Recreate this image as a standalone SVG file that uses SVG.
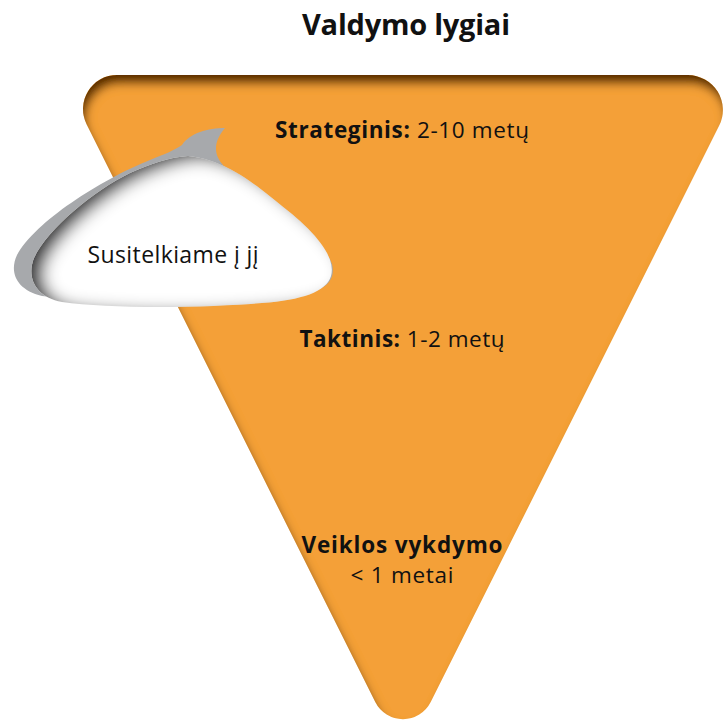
<svg xmlns="http://www.w3.org/2000/svg" width="726" height="721" viewBox="0 0 726 721">
  <style>
    .t { font-family: "Open Sans", "Liberation Sans", sans-serif; fill: #111; text-anchor: middle; }
    .b { font-weight: 700; }
  </style>
  <defs>
    <!-- inner shadow for the inverted triangle -->
    <filter id="triShade" x="-10%" y="-10%" width="120%" height="120%">
      <feComponentTransfer in="SourceAlpha" result="inv">
        <feFuncA type="table" tableValues="1 0"/>
      </feComponentTransfer>
      <feGaussianBlur in="inv" stdDeviation="5"/>
      <feOffset dx="3" dy="9" result="offblur"/>
      <feFlood flood-color="#5a2c02" flood-opacity="1"/>
      <feComposite in2="offblur" operator="in"/>
      <feComposite in2="SourceAlpha" operator="in" result="shadow"/>
      <feMerge>
        <feMergeNode in="SourceGraphic"/>
        <feMergeNode in="shadow"/>
      </feMerge>
    </filter>
    <!-- inner shadow for the bubble face -->
    <filter id="bubbleShade" x="-10%" y="-20%" width="120%" height="140%">
      <feComponentTransfer in="SourceAlpha" result="inv">
        <feFuncA type="table" tableValues="1 0"/>
      </feComponentTransfer>
      <feGaussianBlur in="inv" stdDeviation="8"/>
      <feOffset dx="12" dy="4" result="offblur"/>
      <feFlood flood-color="#333335" flood-opacity="1"/>
      <feComposite in2="offblur" operator="in"/>
      <feComposite in2="SourceAlpha" operator="in" result="shadow"/>
      <feMerge>
        <feMergeNode in="SourceGraphic"/>
        <feMergeNode in="shadow"/>
      </feMerge>
    </filter>
  </defs>

  <g id="title">
    <text class="t b" x="406" y="35" font-size="29" textLength="208">Valdymo lygiai</text>
  </g>

  <g id="pyramid">
    <path filter="url(#triShade)" fill="#F4A037"
      d="M117,75 L687.9,75 A35,35 0 0 1 719.2,125.6 L430.7,702.1 A31,31 0 0 1 375.3,702.1 L86.6,124.2 A34,34 0 0 1 117,75 Z"/>
  </g>

  <g id="levels">
    <text class="t" x="402" y="138" font-size="22.5" textLength="254"><tspan class="b">Strateginis:</tspan> 2-10 metų</text>
    <text class="t" x="402" y="347" font-size="22.5" textLength="205"><tspan class="b">Taktinis:</tspan> 1-2 metų</text>
    <text class="t b" x="402" y="553" font-size="22.5" textLength="201">Veiklos vykdymo</text>
    <text class="t" x="402" y="583" font-size="22.5" textLength="103">&lt; 1 metai</text>
  </g>

  <g id="callout">
    <!-- grey rim with hooked tail -->
    <path fill="#A7A9AC"
      d="M225,128 C208,128 190,133 182,145 C175,150 165,154 150,160 C100,180 35,222 17,255 C9,272 16,290 42,296 C110,304 220,302 300,294 C326,291 336,280 332,264 C322,238 282,206 240,179 C222,167 205,152 225,128 Z"/>
    <!-- white face -->
    <path filter="url(#bubbleShade)" fill="#FFFFFF"
      d="M188,156 C230,160 262,190 292,214 C318,236 336,258 331,276 C326,292 302,300 262,303 C205,308 110,309 62,302 C36,297 26,278 34,258 C48,228 95,190 130,173 C150,164 170,157 188,156 Z"/>
    <text class="t" x="173" y="263" font-size="23" textLength="171">Susitelkiame į jį</text>
  </g>
</svg>
